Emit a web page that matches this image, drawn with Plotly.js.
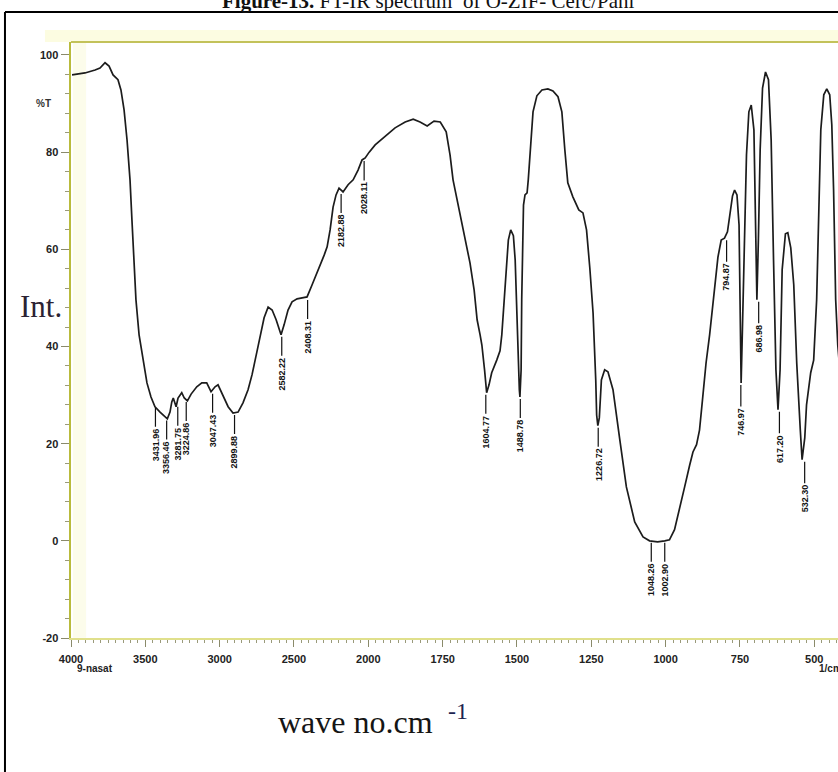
<!DOCTYPE html>
<html><head><meta charset="utf-8">
<script src="https://cdn.plot.ly/plotly-3.0.1.min.js"></script>
<style>html,body{margin:0;padding:0;overflow:hidden;background:#fff;width:838px;height:772px}#chart{width:900px;height:772px}</style>
</head><body><div id="chart"></div>
<script>
// ---- data ----
const wavenumber = [3993,3906,3838,3805,3771,3744,3717,3684,3664,3643,3623,3603,3590,3576,3563,3542,3515,3489,3462,3435,3401,3367,3352,3334,3322,3312,3293,3280,3255,3238,3217,3192,3154,3120,3087,3058,3031,3011,2977,2943,2910,2876,2843,2809,2782,2755,2728,2701,2674,2647,2620,2600,2587,2567,2540,2513,2479,2445,2412,2378,2351,2324,2297,2277,2257,2237,2217,2197,2170,2136,2102,2069,2042,2021,1997,1977,1943,1910,1876,1849,1826,1802,1779,1758,1738,1725,1715,1698,1681,1658,1644,1634,1624,1618,1609,1602,1594,1585,1568,1557,1551,1543,1538,1529,1521,1512,1506,1501,1497,1492,1490,1486,1484,1481,1478,1473,1466,1462,1456,1446,1433,1416,1396,1379,1362,1349,1339,1329,1312,1292,1278,1266,1255,1244,1235,1232,1228,1223,1216,1205,1194,1177,1154,1132,1104,1076,1054,1027,1003,987,970,953,936,919,908,896,886,876,864,852,841,832,824,813,802,792,785,775,768,760,753,748.8,746,741.7,735,728,720,712,703,698,693,688,682,674,664,654,645,637,629,622,615,608,597,589,579,569,559,547,541,532,526,512,502,492,485,478,468,458,448,441,435,428,421,411,401];
const transmittance = [95.9,96.3,96.9,97.3,98.4,97.7,95.9,94.9,92.8,88.7,82.5,74.3,66.0,57.8,49.6,42.4,37.2,32.5,29.6,27.6,26.5,25.5,25.1,26.5,28.6,29.4,27.6,29.4,30.5,29.4,28.8,30.2,31.7,32.5,32.5,30.7,31.7,32.1,30.0,27.6,26.3,26.5,28.4,31.1,34.2,38.3,42.4,45.9,48.1,47.5,45.5,43.4,42.4,44.4,47.5,49.2,49.8,50.0,50.2,52.7,54.7,56.4,58.8,60.5,64.0,68.7,71.2,72.6,71.8,73.3,74.3,76.3,78.4,78.8,80.0,81.5,83.3,85.0,86.2,86.8,86.2,85.4,86.4,86.2,84.2,79.4,74.3,69.1,64.0,57.2,51.6,45.5,42.4,40.3,35.2,30.5,32.1,34.6,37.2,39.1,42.4,49.6,55.1,61.9,64.0,62.8,57.8,46.9,37.9,31.1,29.6,35.2,49.6,60.5,69.1,71.2,71.6,74.3,80.5,88.3,91.6,92.8,93.0,92.6,91.4,88.3,80.5,73.7,70.8,68.1,67.5,64.0,56.2,46.9,33.1,25.9,23.7,25.3,33.1,35.2,34.8,31.1,20.8,11.1,3.9,0.8,0.0,-0.2,0.0,0.2,2.3,6.4,11.1,15.6,18.3,19.8,22.8,29.0,36.6,42.4,49.0,54.7,58.4,61.9,62.3,63.6,66.5,71.0,72.2,71.2,65.0,49.6,32.5,43.4,64.0,79.4,88.3,89.7,84.6,66.0,49.6,61.9,80.5,93.2,96.5,94.9,82.5,57.8,35.2,27.0,35.2,55.8,63.2,63.4,60.3,52.7,36.6,22.8,16.7,21.2,28.0,34.6,37.2,49.6,68.1,84.6,91.8,93.0,91.8,85.6,72.2,49.6,40.3,33.1,29.0];

const xTickValues = [4000,3500,3000,2500,2000,1750,1500,1250,1000,750,500];
const xTickLabels = ['4000','3500','3000','2500','2000','1750','1500','1250','1000','750','500'];
const yTickValues = [-20,0,20,40,60,80,100];
const yTickLabels = ['-20','0','20','40','60','80','100'];

const peakLabels = ['3431.96','3356.46','3281.75','3224.86','3047.43','2899.88','2582.22','2408.31','2182.88','2028.11','1604.77','1488.78','1226.72','1048.26','1002.90','794.87','746.97','686.98','617.20','532.30'];
const peakWavenumbers = [3431.96,3356.46,3281.75,3224.86,3047.43,2899.88,2582.22,2408.31,2182.88,2028.11,1604.77,1488.78,1226.72,1048.26,1002.90,794.87,746.97,686.98,617.20,532.30];
const peakT = [27.8,25.2,28.0,29.0,30.7,26.3,42.4,50.0,71.8,78.6,30.5,29.6,23.7,0.0,0.0,62.3,32.5,49.6,27.0,16.7];

// ---- FT-IR axis: scale changes at 2000 cm-1 (500 per unit above, 250 per unit below) ----
function toAxis(w){ return w >= 2000 ? (4000 - w) / 500 : 4 + (2000 - w) / 250; }

// layout geometry (pixels)
const W = 900, H = 772, L = 71, T = 42, R = 900 - 843.7, B = 772 - 638.3;
const PW = W - L - R, PH = H - T - B;
const px = x => (x - L) / PW;
const py = y => (H - B - y) / PH;

const trace = {
  x: wavenumber.map(toAxis), y: transmittance, type: 'scatter', mode: 'lines',
  line: {color: '#1c1c1c', width: 1.7}, hoverinfo: 'skip'
};

const annotations = [];
peakLabels.forEach((t, i) => {
  annotations.push({
    x: toAxis(peakWavenumbers[i]), y: peakT[i], xref: 'x', yref: 'y',
    text: '<b>' + t + '</b>', textangle: -90, showarrow: true, arrowhead: 0,
    arrowwidth: 1.2, arrowcolor: '#111', ax: 0, ay: 39, standoff: 2,
    font: {family: 'Liberation Sans, Arial', size: 9, color: '#111'}
  });
});

annotations.push(
  {xref: 'paper', yref: 'paper', x: px(428), y: py(15), xanchor: 'center', yanchor: 'bottom', showarrow: false,
   text: '<b>Figure-13.</b> FT-IR spectrum  of O-ZIF- Cerc/Pani',
   font: {family: 'Liberation Serif, Times New Roman', size: 21, color: '#111'}},
  {xref: 'paper', yref: 'paper', x: px(44), y: py(104), xanchor: 'center', yanchor: 'middle', showarrow: false,
   text: '<b>%T</b>', font: {family: 'Liberation Sans, Arial', size: 10, color: '#333'}},
  {xref: 'paper', yref: 'paper', x: px(18), y: py(307), xanchor: 'left', yanchor: 'middle', showarrow: false,
   text: 'Int.', font: {family: 'Liberation Serif, Times New Roman', size: 31, color: '#2b2233'}},
  {xref: 'paper', yref: 'paper', x: px(75), y: py(669), xanchor: 'left', yanchor: 'middle', showarrow: false,
   text: '<b>9-nasat</b>', font: {family: 'Liberation Sans, Arial', size: 10, color: '#222'}},
  {xref: 'paper', yref: 'paper', x: px(844), y: py(669), xanchor: 'right', yanchor: 'middle', showarrow: false,
   text: '<b>1/cm</b>', font: {family: 'Liberation Sans, Arial', size: 10, color: '#222'}},
  {xref: 'paper', yref: 'paper', x: px(276), y: py(722), xanchor: 'left', yanchor: 'middle', showarrow: false,
   text: 'wave no.cm', font: {family: 'Liberation Serif, Times New Roman', size: 32, color: '#151515'}},
  {xref: 'paper', yref: 'paper', x: px(446), y: py(711), xanchor: 'left', yanchor: 'middle', showarrow: false,
   text: '-1', font: {family: 'Liberation Serif, Times New Roman', size: 24, color: '#1c2450'}}
);

const shapes = [
  // outer black frame (top and left visible)
  {type: 'line', xref: 'paper', yref: 'paper', x0: px(5), x1: px(905), y0: py(12), y1: py(12), line: {color: '#000', width: 2}},
  {type: 'line', xref: 'paper', yref: 'paper', x0: px(5), x1: px(5), y0: py(12), y1: py(780), line: {color: '#000', width: 2}},
  // pale yellow glow along top and left edge of plot
  {type: 'rect', xref: 'paper', yref: 'paper', x0: px(45), x1: px(900), y0: py(30), y1: py(42), line: {width: 0}, fillcolor: 'rgba(250,250,200,0.55)', layer: 'below'},
  {type: 'rect', xref: 'paper', yref: 'paper', x0: px(73), x1: px(86), y0: py(42), y1: py(638), line: {width: 0}, fillcolor: 'rgba(250,250,215,0.5)', layer: 'below'},
  // top border of plot
  {type: 'line', xref: 'paper', yref: 'paper', x0: px(71), x1: px(900), y0: py(42), y1: py(42), line: {color: '#c3c25a', width: 2}}
];

const minorX = [];
for (let u = 0.1; u < 10.4; u += 0.1) minorX.push(Math.round(u * 10) / 10);

const layout = {
  width: W, height: H, margin: {l: L, r: R, t: T, b: B, pad: 0},
  paper_bgcolor: 'rgba(0,0,0,0)', plot_bgcolor: 'rgba(0,0,0,0)', showlegend: false,
  xaxis: {
    range: [0, 10.4], tickmode: 'array', tickvals: xTickValues.map(toAxis), ticktext: xTickLabels.map(s => '<b>' + s + '</b>'),
    showgrid: false, zeroline: false, showline: true, linecolor: '#e0e08c', linewidth: 1.5,
    ticks: 'outside', ticklen: 7, tickwidth: 1, tickcolor: '#8a8a6a', ticklabelstandoff: 3,
    tickfont: {family: 'Liberation Sans, Arial', size: 11, color: '#222'},
    minor: {tickmode: 'array', tickvals: minorX, ticks: 'outside', ticklen: 3, tickcolor: '#9a9a7a', tickwidth: 1, showgrid: false}
  },
  yaxis: {
    range: [-20, 102.67], tickmode: 'array', tickvals: yTickValues, ticktext: yTickLabels.map(s => '<b>' + s + '</b>'),
    showgrid: false, zeroline: false, showline: true, linecolor: '#b9bb3c', linewidth: 2.5,
    ticks: 'outside', ticklen: 8, tickwidth: 1, tickcolor: '#8a8a6a',
    tickfont: {family: 'Liberation Sans, Arial', size: 11, color: '#222'},
    minor: {dtick: 4, tick0: 0, ticks: 'outside', ticklen: 4, tickcolor: '#9a9a7a', tickwidth: 1, showgrid: false}
  },
  annotations: annotations, shapes: shapes
};

Plotly.newPlot('chart', [trace], layout, {staticPlot: true, displayModeBar: false});
</script>
</body></html>
